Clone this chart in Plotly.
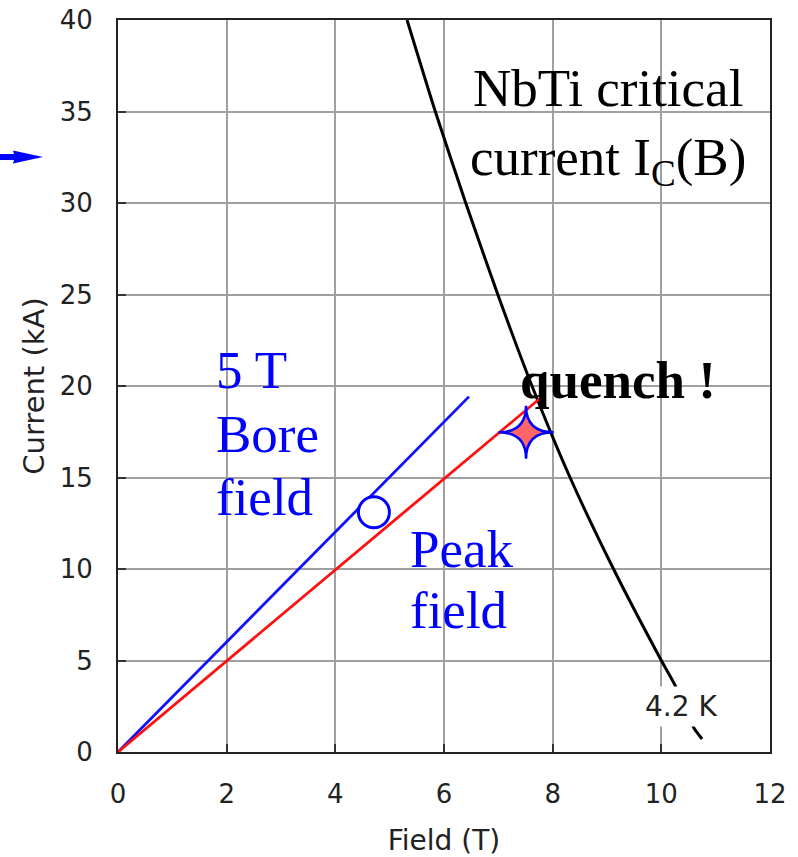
import plotly.graph_objects as go

# NbTi critical current curve at 4.2 K
ic_field = [5.32, 5.84, 6.40, 6.99, 7.62, 8.32, 9.12, 10.00, 10.25, 10.60, 10.75]
ic_current = [40.0, 35.0, 30.0, 25.0, 20.0, 15.0, 10.0, 5.0, 3.66, 1.31, 0.71]

# load lines
bore_field = [0.0, 6.46]
bore_current = [0.0, 19.42]
peak_field = [0.0, 7.77]
peak_current = [0.0, 19.33]

# markers
op_field = [4.71]
op_current = [13.1]
quench_field = [7.51]
quench_current = [17.47]

x_ticks = [0, 2, 4, 6, 8, 10, 12]
y_ticks = [0, 5, 10, 15, 20, 25, 30, 35, 40]

X_RANGE = [0, 12]
Y_RANGE = [0, 40]
W, H = 798, 857
M = dict(l=118, r=28, t=20, b=105)
plot_w = W - M["l"] - M["r"]
plot_h = H - M["t"] - M["b"]

fig = go.Figure()
fig.add_trace(go.Scatter(x=ic_field, y=ic_current, mode="lines",
                         line=dict(color="black", width=3, shape="spline", smoothing=0.6),
                         showlegend=False))
fig.add_trace(go.Scatter(x=bore_field, y=bore_current, mode="lines",
                         line=dict(color="#1010ff", width=2.8), showlegend=False))
fig.add_trace(go.Scatter(x=peak_field, y=peak_current, mode="lines",
                         line=dict(color="#ff1010", width=2.8), showlegend=False))
fig.add_trace(go.Scatter(x=op_field, y=op_current, mode="markers",
                         marker=dict(symbol="circle", size=31, color="white",
                                     line=dict(color="#0000ff", width=3)),
                         showlegend=False))

# four-pointed star at the quench point (size given in pixels, converted to axis units)
star_half_w_px, star_half_h_px = 27.5, 26.5
dx = star_half_w_px * (X_RANGE[1] - X_RANGE[0]) / plot_w
dy = star_half_h_px * (Y_RANGE[1] - Y_RANGE[0]) / plot_h
shapes = []
for qx, qy in zip(quench_field, quench_current):
    c = f"{qx},{qy}"
    path = (f"M {qx - dx},{qy} Q {c} {qx},{qy + dy} Q {c} {qx + dx},{qy} "
            f"Q {c} {qx},{qy - dy} Q {c} {qx - dx},{qy} Z")
    shapes.append(dict(type="path", xref="x", yref="y", path=path,
                       fillcolor="#ff6666", line=dict(color="#0000ff", width=2.5)))

serif = "Liberation Serif, Times New Roman, serif"
sans = "DejaVu Sans, Verdana, sans-serif"

blue_font = dict(family=serif, size=53, color="#0000ff")
annotations = [
    dict(x=9.02, y=34.2, text="NbTi critical<br>current I<sub>C</sub>(B)", showarrow=False,
         font=dict(family=serif, size=53, color="black"), align="center",
         xanchor="center", yanchor="middle"),
    dict(x=1.77, y=20.87, text="5 T", showarrow=False, font=blue_font,
         xanchor="left", yanchor="middle"),
    dict(x=1.77, y=17.38, text="Bore", showarrow=False, font=blue_font,
         xanchor="left", yanchor="middle"),
    dict(x=1.77, y=13.93, text="field", showarrow=False, font=blue_font,
         xanchor="left", yanchor="middle"),
    dict(x=5.34, y=11.09, text="Peak", showarrow=False, font=blue_font,
         xanchor="left", yanchor="middle"),
    dict(x=5.34, y=7.76, text="field", showarrow=False, font=blue_font,
         xanchor="left", yanchor="middle"),
    dict(x=7.36, y=20.33, text="<b>quench !</b>", showarrow=False,
         font=dict(family=serif, size=53, color="black"),
         xanchor="left", yanchor="middle"),
    dict(x=10.36, y=2.5, text="4.2 K", showarrow=False,
         font=dict(family=sans, size=28, color="#222222"), bgcolor="white",
         borderpad=3, xanchor="center", yanchor="middle"),
]

# blue arrow at left edge (paper coords, from pixels)
def px(xp):
    return (xp - M["l"]) / plot_w
def py(yp):
    return (H - M["b"] - yp) / plot_h

arrow_path = (f"M {px(0)},{py(154)} L {px(14)},{py(154)} L {px(13)},{py(150.5)} "
              f"L {px(43)},{py(157)} L {px(13)},{py(163.5)} L {px(14)},{py(160)} "
              f"L {px(0)},{py(160)} Z")
shapes.append(dict(type="path", xref="paper", yref="paper", path=arrow_path,
                   fillcolor="#0000ff", line=dict(width=0)))

fig.update_layout(
    width=W, height=H,
    margin=dict(**M, autoexpand=False),
    paper_bgcolor="white", plot_bgcolor="white",
    annotations=annotations,
    shapes=shapes,
    font=dict(family=sans, color="#222222"),
)
fig.update_xaxes(range=X_RANGE, tickvals=x_ticks, showgrid=True, gridcolor="#a0a0a0",
                 gridwidth=1.5, showline=True, linecolor="#222222", linewidth=2,
                 mirror=True, ticks="inside", ticklen=8, tickwidth=1.5, tickcolor="#333333",
                 tickfont=dict(size=26, family=sans, color="#222222"), ticklabelstandoff=18,
                 ticklabeloverflow="allow",
                 title=dict(text="Field (T)", font=dict(size=28, family=sans, color="#222222"),
                            standoff=30),
                 zeroline=False, automargin=False)
fig.update_yaxes(range=Y_RANGE, tickvals=y_ticks, showgrid=True, gridcolor="#a0a0a0",
                 gridwidth=1.5, showline=True, linecolor="#222222", linewidth=2,
                 mirror=True, ticks="inside", ticklen=8, tickwidth=1.5, tickcolor="#333333",
                 tickfont=dict(size=26, family=sans, color="#222222"), ticklabelstandoff=18,
                 ticklabeloverflow="allow",
                 title=dict(text="Current (kA)", font=dict(size=29, family=sans, color="#222222"),
                            standoff=7),
                 zeroline=False, automargin=False)

fig.write_html("out.html", config={"displayModeBar": False},
               post_script="document.body.style.margin='0';")
